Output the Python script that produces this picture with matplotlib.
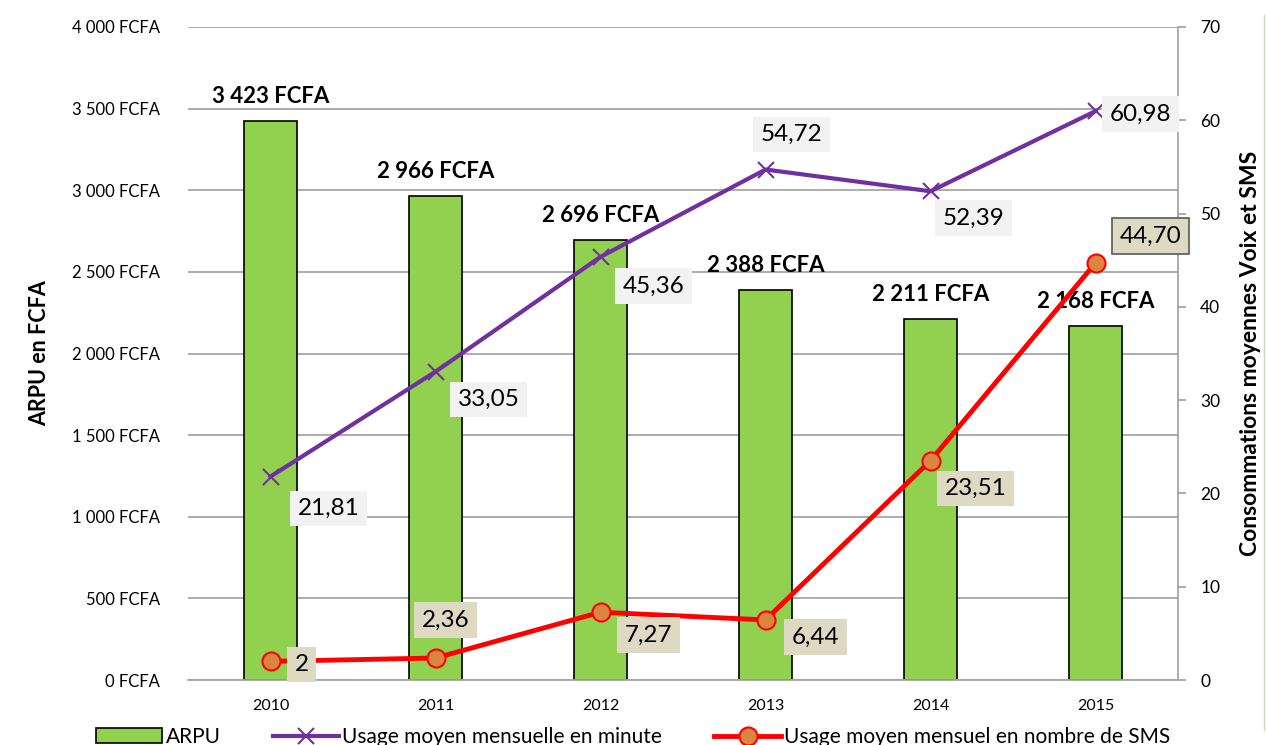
import matplotlib.pyplot as plt
import numpy as np

years = ['2010', '2011', '2012', '2013', '2014', '2015']
arpu = [3423, 2966, 2696, 2388, 2211, 2168]
minutes = [21.81, 33.05, 45.36, 54.72, 52.39, 60.98]
sms = [2, 2.36, 7.27, 6.44, 23.51, 44.70]
minute_labels = ['21,81', '33,05', '45,36', '54,72', '52,39', '60,98']
sms_labels = ['2', '2,36', '7,27', '6,44', '23,51', '44,70']

plt.rcParams['font.family'] = ['Lato', 'DejaVu Sans']

fig = plt.figure(figsize=(12.66, 7.45), dpi=100)
ax = fig.add_axes([0.1485, 0.0872, 0.782, 0.8766])
ax2 = ax.twinx()

x = np.arange(len(years))
ax.bar(x, arpu, width=0.32, color='#92D050', edgecolor='black', linewidth=1.2,
       zorder=2, label='ARPU')
ax.set_xlim(-0.5, len(years) - 0.5)
ax.set_ylim(0, 4000)
ax.set_yticks(np.arange(0, 4001, 500))
ax.set_yticklabels([f'{v:,} FCFA'.replace(',', ' ') for v in range(0, 4001, 500)],
                   fontsize=12)
ax.set_xticks(x)
ax.set_xticklabels(years, fontsize=11.5)
ax.grid(axis='y', color='#A6A6A6', linewidth=1.3, zorder=0)
ax.set_axisbelow(True)
ax.tick_params(axis='y', length=0, pad=20)
ax.tick_params(axis='x', length=0, pad=14)
for s in ['top', 'left', 'right']:
    ax.spines[s].set_visible(False)
ax.spines['bottom'].set_color('#A6A6A6')
ax.spines['bottom'].set_linewidth(1.3)
ax.set_ylabel('ARPU en FCFA', fontsize=15.5, fontweight='bold', labelpad=16)

for xi, v in zip(x, arpu):
    ax.text(xi, v + 150, f'{v:,} FCFA'.replace(',', ' '), ha='center', va='center',
            fontsize=16, fontweight='bold')

ax2.plot(x, minutes, color='#7030A0', linewidth=3, marker='x', markersize=11,
         markeredgewidth=1.5, zorder=4, label='Usage moyen mensuelle en minute')
ax2.plot(x, sms, color='#FF0000', linewidth=3.5, marker='o', markersize=13,
         markerfacecolor='#DA8640', markeredgecolor='#FF0000', markeredgewidth=1.5,
         zorder=4, label='Usage moyen mensuel en nombre de SMS')
ax2.set_ylim(0, 70)
ax2.set_yticks(np.arange(0, 71, 10))
ax2.tick_params(axis='y', labelsize=12.5, color='#A6A6A6', length=6, width=1.3, pad=10)
for s in ['top', 'left', 'bottom']:
    ax2.spines[s].set_visible(False)
ax2.spines['right'].set_color('#A6A6A6')
ax2.spines['right'].set_linewidth(1.3)
ax2.set_ylabel('Consommations moyennes Voix et SMS', fontsize=16.5, fontweight='bold',
               labelpad=14)

# label offsets in pixels (dx, dy)
min_off = [(58, -32), (53, -28), (53, -29), (26, 35), (43, -27), (45, -3)]
sms_off = [(31, -3), (10, 38), (48, -23), (50, -17), (45, -28), (55, 27)]

for xi, v, lab, (dx, dy) in zip(x, minutes, minute_labels, min_off):
    ax2.annotate(lab, (xi, v), xytext=(dx * 0.72, dy * 0.72), textcoords='offset points',
                 ha='center', va='center', fontsize=17.5, zorder=6,
                 bbox=dict(boxstyle='square,pad=0.3', facecolor='#F2F2F2',
                           edgecolor='none'))
for i, (xi, v, lab, (dx, dy)) in enumerate(zip(x, sms, sms_labels, sms_off)):
    ec = '#595959' if i == len(sms) - 1 else 'none'
    ax2.annotate(lab, (xi, v), xytext=(dx * 0.72, dy * 0.72), textcoords='offset points',
                 ha='center', va='center', fontsize=17.5, zorder=6,
                 bbox=dict(boxstyle='square,pad=0.3', facecolor='#DDD9C3',
                           edgecolor=ec, linewidth=1.2))

h1, l1 = ax.get_legend_handles_labels()
h2, l2 = ax2.get_legend_handles_labels()
fig.legend(h1 + h2, l1 + l2, loc='center', bbox_to_anchor=(0.5, 0.011), ncol=3,
           frameon=False, fontsize=15, columnspacing=2.5, handlelength=3.2,
           handletextpad=0.15)

fig.add_artist(plt.Line2D([0.9985, 0.9985], [0.02, 0.98], color='#C6E0B4', linewidth=1))

fig.savefig('out.png', dpi=100)
